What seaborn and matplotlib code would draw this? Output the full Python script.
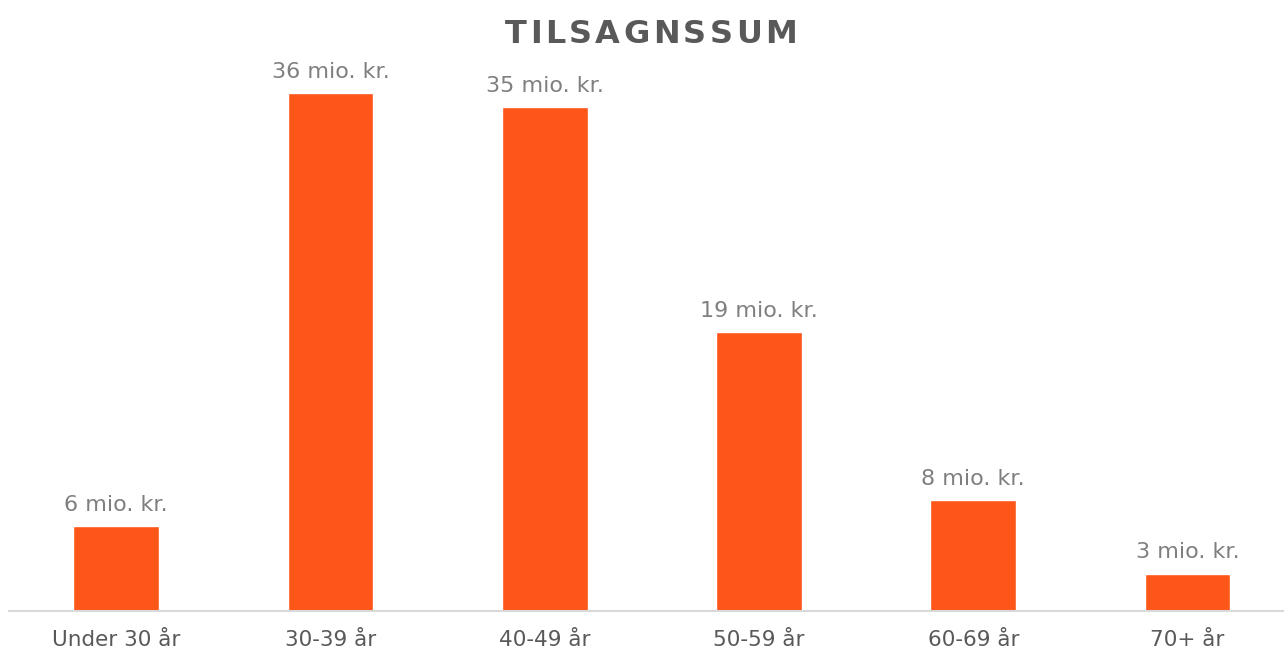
import matplotlib
matplotlib.use("Agg")
import matplotlib.pyplot as plt
import pandas as pd
import seaborn as sns

# aldersgrupper og tilsagnssum (mio. kr.)
ALDERSGRUPPER = ["Under 30 år", "30-39 år", "40-49 år", "50-59 år", "60-69 år", "70+ år"]
TILSAGN = [5.9, 36.0, 35.0, 19.4, 7.7, 2.6]
TITEL = "TILSAGNSSUM"

BAR_COLOR = "#FE5519"
LABEL_GRAY = "#7F7F7F"
TICK_GRAY = "#595959"

sns.set_theme(style="white")
plt.rcParams["font.family"] = ["DejaVu Sans"]

df = pd.DataFrame({"alder": ALDERSGRUPPER, "sum": TILSAGN})

fig = plt.figure(figsize=(12.84, 6.5), dpi=100)
ax = fig.add_axes([9 / 1284, 39 / 650, 1275 / 1284, 541 / 650])

sns.barplot(data=df, x="alder", y="sum", color=BAR_COLOR, width=0.4,
            saturation=1, ax=ax)
ax.set_xlim(-0.5, 5.45)
ax.set_ylim(0, 541 / 14.39)

for i, v in enumerate(TILSAGN):
    ax.annotate(f"{v:.0f} mio. kr.", (i, v), xytext=(0, 11), textcoords="offset points",
                ha="center", va="baseline", fontsize=16, color=LABEL_GRAY)

ax.set_xlabel("")
ax.set_ylabel("")
ax.set_yticks([])
ax.tick_params(axis="x", length=0, pad=14, labelsize=15.5, labelcolor=TICK_GRAY)
for side in ["top", "left", "right"]:
    ax.spines[side].set_visible(False)
ax.spines["bottom"].set_color("#D9D9D9")
ax.spines["bottom"].set_linewidth(1.5)

# titel med ekstra bogstavafstand
renderer = fig.canvas.get_renderer()
chars = []
for ch in TITEL:
    t = fig.text(0, 1 - 43 / 650, ch, fontsize=23, fontweight="bold",
                 color=TICK_GRAY, va="baseline", ha="left")
    chars.append((t, t.get_window_extent(renderer).width))
spacing = 3.3
total = sum(w for _, w in chars) + spacing * (len(chars) - 1)
x = 651 - total / 2
for t, w in chars:
    t.set_x(x / 1284)
    x += w + spacing

fig.savefig("out.png", dpi=100)
